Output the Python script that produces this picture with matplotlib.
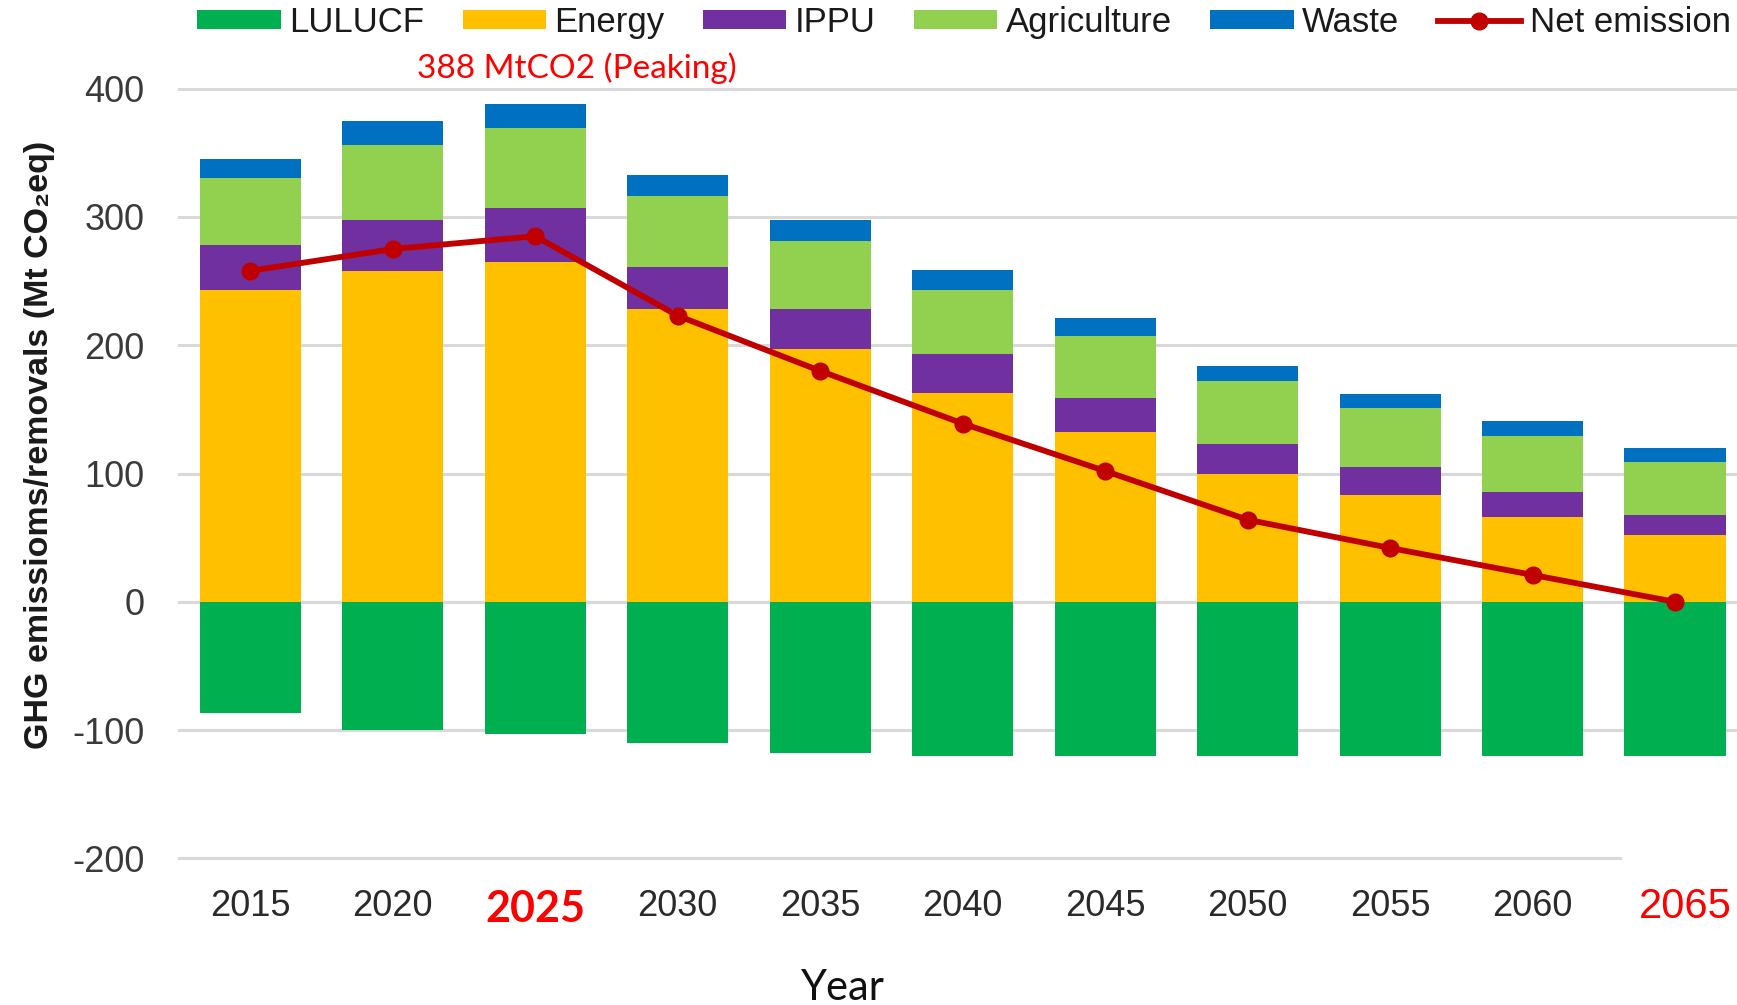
import matplotlib.pyplot as plt
import matplotlib.transforms as mtransforms
import numpy as np

# данные (Mt CO2eq)
years = ['2015', '2020', '2025', '2030', '2035', '2040', '2045', '2050', '2055', '2060', '2065']
energy = [243, 258, 265, 228, 197, 163, 132, 100, 83, 66, 52]
ippu = [35, 40, 42, 33, 31, 30, 27, 23, 22, 20, 16]
agriculture = [52, 58, 62, 55, 53, 50, 48, 49, 46, 43, 41]
waste = [15, 19, 19, 17, 17, 16, 14, 12, 11, 12, 11]
lulucf = [-87, -100, -103, -110, -118, -120, -120, -120, -120, -120, -120]
net_emission = [258, 275, 285, 223, 180, 139, 102, 64, 42, 21, 0]

y_ticks = [400, 300, 200, 100, 0, -100, -200]

plt.rcParams['font.family'] = ['Liberation Sans', 'DejaVu Sans']

fig = plt.figure(figsize=(17.37, 10.05), dpi=100)
ax = fig.add_axes([0.1033, 0.1458, 0.8967, 0.766])

x = np.arange(len(years))
w = 0.71

# сетка
for t in y_ticks:
    xmax = 0.925 if t == -200 else 1.0
    ax.axhline(t, xmin=0, xmax=xmax, color='#d9d9d9', lw=2.2, zorder=0, clip_on=False)

b1 = np.array(energy)
b2 = b1 + np.array(ippu)
b3 = b2 + np.array(agriculture)

ax.bar(x, lulucf, w, color='#00b050', label='LULUCF', zorder=2)
ax.bar(x, energy, w, color='#ffc000', label='Energy', zorder=2)
ax.bar(x, ippu, w, bottom=b1, color='#7030a0', label='IPPU', zorder=2)
ax.bar(x, agriculture, w, bottom=b2, color='#92d050', label='Agriculture', zorder=2)
ax.bar(x, waste, w, bottom=b3, color='#0070c0', label='Waste', zorder=2)
ax.plot(x, net_emission, color='#c00000', lw=4.2, marker='o', ms=12,
        label='Net emission', zorder=3, clip_on=False)

ax.set_xlim(-0.4975, 10.435)
ax.set_ylim(-200, 400)
ax.set_yticks(y_ticks)
ax.set_yticklabels([str(t) for t in y_ticks])
ax.tick_params(axis='y', length=0, pad=25, labelsize=26, labelcolor='#3a3a3a')
ax.set_xticks(x)
ax.set_xticklabels([y if y != '2065' else '' for y in years])
ax.tick_params(axis='x', length=0, pad=22, labelsize=26, labelcolor='#2a2a2a')
for spine in ax.spines.values():
    spine.set_visible(False)

# выделенные подписи годов
for lab in ax.get_xticklabels():
    if lab.get_text() == '2025':
        lab.set_color('#ff0000')
        lab.set_fontweight('bold')
        lab.set_family(['Lato', 'DejaVu Sans'])
        lab.set_fontsize(31)

tr = mtransforms.blended_transform_factory(ax.transData, ax.transAxes)
ax.text(10.07, -0.063, '2065', transform=tr, color='#ff0000', fontsize=30,
        ha='center', va='center')

ax.set_ylabel('GHG emissioms/removals (Mt CO₂eq)', fontsize=24.5, fontweight='bold',
              color='#1a1a1a')
ax.yaxis.set_label_coords(-0.08, 0.537)

ax.text(2.29, 404, '388 MtCO2 (Peaking)', color='#ff0000', fontsize=24,
        family=['Lato', 'DejaVu Sans'], ha='center', va='bottom')

fig.text(0.4853, 0.017, 'Year', fontsize=30, family=['Lato', 'DejaVu Sans'],
         ha='center', va='center', color='#111111')

handles, labels = ax.get_legend_handles_labels()
order = [labels.index(n) for n in ['LULUCF', 'Energy', 'IPPU', 'Agriculture', 'Waste', 'Net emission']]
leg = fig.legend([handles[i] for i in order], [labels[i] for i in order],
                 loc='center', bbox_to_anchor=(0.555, 0.978), ncol=6, frameon=False,
                 fontsize=25, handlelength=2.4, handleheight=0.47, columnspacing=1.1,
                 handletextpad=0.25, borderaxespad=0)
for t in leg.get_texts():
    t.set_color('#1a1a1a')

fig.savefig('out.png', dpi=100)
